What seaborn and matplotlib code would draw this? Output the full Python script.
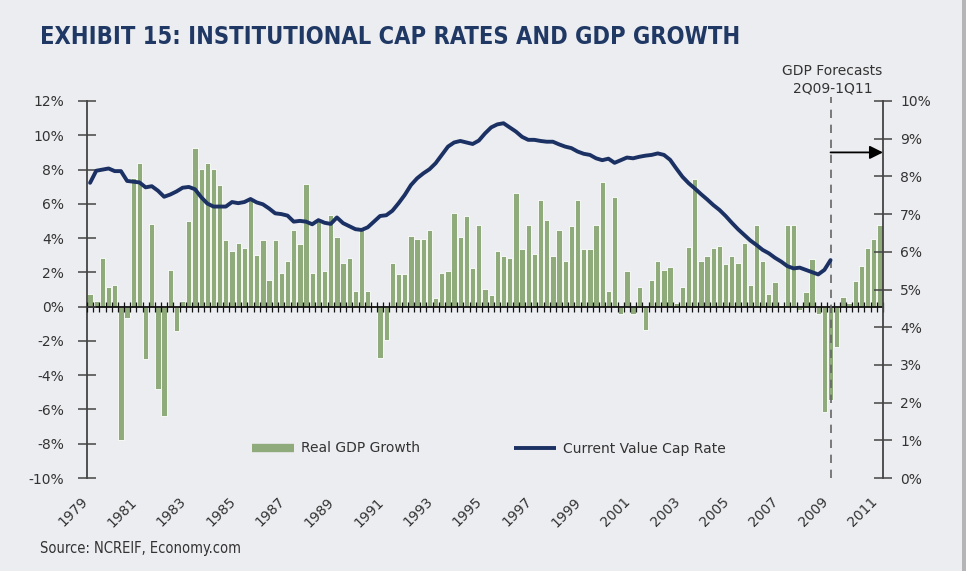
import numpy as np
import pandas as pd
import matplotlib
matplotlib.use('Agg')
import matplotlib.pyplot as plt
import seaborn as sns
from matplotlib import font_manager
from matplotlib.patches import Rectangle
from matplotlib.lines import Line2D

# Real GDP growth, quarterly 1Q79 - 1Q11 (left axis, %); 2Q09 onwards are forecasts
gdp_growth = [
    0.74, 0.33, 2.85, 1.17,    # 1979
    1.25, -7.8, -0.68, 7.52,   # 1980
    8.38, -3.04, 4.83, -4.83,  # 1981
    -6.37, 2.14, -1.44, 0.33,  # 1982
    4.97, 9.28, 8.05, 8.38,    # 1983
    8.05, 7.1, 3.9, 3.24,      # 1984
    3.74, 3.43, 6.33, 3.04,    # 1985
    3.9, 1.56, 3.9, 1.95,      # 1986
    2.65, 4.46, 3.68, 7.15,    # 1987
    1.97, 5.17, 2.09, 5.36,    # 1988
    4.09, 2.55, 2.85, 0.92,    # 1989
    4.64, 0.92, 0.05, -2.98,   # 1990
    -1.95, 2.55, 1.93, 1.93,   # 1991
    4.15, 3.92, 3.96, 4.46,    # 1992
    0.49, 1.97, 2.09, 5.48,    # 1993
    4.09, 5.3, 2.26, 4.78,     # 1994
    1.05, 0.68, 3.26, 2.98,    # 1995
    2.85, 6.63, 3.35, 4.78,    # 1996
    3.06, 6.2, 5.03, 2.98,     # 1997
    4.46, 2.67, 4.68, 6.2,     # 1998
    3.37, 3.37, 4.78, 7.29,    # 1999
    0.92, 6.37, -0.45, 2.09,   # 2000
    -0.45, 1.17, -1.36, 1.56,  # 2001
    2.65, 2.14, 2.34, 0.19,    # 2002
    1.17, 3.5, 7.45, 2.65,     # 2003
    2.98, 3.43, 3.55, 2.5,     # 2004
    2.98, 2.55, 3.74, 1.25,    # 2005
    4.79, 2.68, 0.76, 1.46,    # 2006
    0.1, 4.79, 4.79, -0.2,     # 2007
    0.88, 2.8, -0.43, -6.17,   # 2008
    -5.47, -2.35, 0.56, 0.21,  # 2009
    1.48, 2.35, 3.4, 3.97,     # 2010
    4.79,                      # 2011
]

# Current value cap rate, quarterly 1Q79 - 1Q09 (right axis, %)
cap_rate = [
    7.83, 8.15, 8.18, 8.21, 8.14, 8.14, 7.88, 7.86, 7.84, 7.71, 7.74, 7.62,
    7.46, 7.52, 7.60, 7.70, 7.72, 7.66, 7.45, 7.28, 7.20, 7.20, 7.20, 7.32,
    7.29, 7.32, 7.40, 7.31, 7.26, 7.15, 7.02, 7.00, 6.96, 6.80, 6.82, 6.80,
    6.73, 6.84, 6.77, 6.74, 6.91, 6.76, 6.68, 6.60, 6.58, 6.65, 6.80, 6.95,
    6.97, 7.09, 7.29, 7.51, 7.77, 7.95, 8.08, 8.19, 8.35, 8.57, 8.79, 8.90,
    8.94, 8.90, 8.86, 8.95, 9.14, 9.30, 9.38, 9.41, 9.30, 9.19, 9.05, 8.97,
    8.97, 8.94, 8.92, 8.92, 8.85, 8.79, 8.75, 8.66, 8.60, 8.57, 8.48, 8.43,
    8.47, 8.36, 8.43, 8.50, 8.48, 8.52, 8.55, 8.57, 8.61, 8.57, 8.44, 8.21,
    7.99, 7.82, 7.68, 7.53, 7.39, 7.24, 7.11, 6.95, 6.77, 6.60, 6.45, 6.30,
    6.18, 6.05, 5.96, 5.84, 5.74, 5.62, 5.56, 5.58, 5.52, 5.46, 5.40, 5.52,
    5.78,
]

first_year = 1979
year_labels = [str(y) for y in range(1979, 2012, 2)]
left_ticks = list(range(-10, 13, 2))
right_ticks = list(range(0, 11))
forecast_start = '2Q09'
title = 'EXHIBIT 15: INSTITUTIONAL CAP RATES AND GDP GROWTH'
source = 'Source: NCREIF, Economy.com'

# colours
BG = '#ECEDF1'
GREEN = '#8FAA7B'
NAVY = '#1B3163'
TEXT = '#333333'
AXIS = '#444444'

quarters = [f'{i % 4 + 1}Q{(first_year + i // 4) % 100:02d}' for i in range(len(gdp_growth))]
df = pd.DataFrame({'quarter': quarters, 'gdp': gdp_growth})
cap_df = pd.DataFrame({'pos': np.arange(len(cap_rate)), 'cap': cap_rate})


def pick_narrow(bold):
    # look for an installed narrow / condensed upright face, else fall back to Roboto
    for f in font_manager.fontManager.ttflist:
        narrow = ('Narrow' in f.name or 'Condensed' in f.name
                  or f.stretch in ('condensed', 'semi-condensed', 'extra-condensed', 575, 625, 750))
        isbold = f.weight in ('bold', 700, 'semibold', 600) if bold else f.weight in ('normal', 400, 'regular')
        upright = f.style == 'normal' and 'Italic' not in f.fname and 'Oblique' not in f.fname
        if narrow and isbold and upright:
            return font_manager.FontProperties(fname=f.fname)
    return font_manager.FontProperties(family='Roboto', weight='bold' if bold else 'normal')


sns.set_style('white')
plt.rcParams['font.family'] = ['DejaVu Sans']

fig = plt.figure(figsize=(9.66, 5.71), dpi=100)
fig.patch.set_facecolor(BG)
fig.patches.append(Rectangle((962 / 966, 0), 4 / 966, 1, transform=fig.transFigure,
                             facecolor='#B5B5B8', edgecolor='none', zorder=-10))

ax = fig.add_axes([87 / 966, 1 - 478 / 571, 796 / 966, 377 / 571])
ax.set_facecolor('none')
ax.set_axisbelow(False)

sns.barplot(data=df, x='quarter', y='gdp', color=GREEN, saturation=1, width=0.86,
            edgecolor='white', linewidth=0.6, ax=ax)
ax.set_xlim(-0.5, len(quarters) - 0.5)
ax.set_ylim(left_ticks[0], left_ticks[-1])
ax.set_xlabel('')
ax.set_ylabel('')

# left axis
ax.set_yticks(left_ticks, [f'{t}%' for t in left_ticks])
ax.tick_params(axis='y', direction='inout', length=13, width=1.1, colors=AXIS,
               labelcolor=TEXT, labelsize=10, pad=10, left=True)
for s in ['top', 'right']:
    ax.spines[s].set_visible(False)
ax.spines['left'].set_color(AXIS)
ax.spines['left'].set_linewidth(1.3)

# zero line with a tick at every quarter
ax.spines['bottom'].set_position(('data', 0))
ax.spines['bottom'].set_color('#111111')
ax.spines['bottom'].set_linewidth(1.3)
ax.set_xticks(np.arange(len(quarters) + 1) - 0.5, [''] * (len(quarters) + 1))
ax.tick_params(axis='x', direction='inout', length=7, width=0.9, colors='#111111', bottom=True)

# year labels along the bottom
sec = ax.secondary_xaxis('bottom')
year_pos = [(int(y) - first_year) * 4 for y in year_labels]
sec.set_xticks(year_pos, year_labels)
sec.tick_params(length=0, pad=12, labelsize=10, labelcolor=TEXT)
for lab in sec.get_xticklabels():
    lab.set_rotation(45)
    lab.set_ha('right')
sec.spines['bottom'].set_visible(False)

# right axis with the cap rate
ax2 = ax.twinx()
sns.lineplot(data=cap_df, x='pos', y='cap', color=NAVY, lw=2.8, ax=ax2)
ax2.set_ylim(right_ticks[0], right_ticks[-1])
ax2.set_yticks(right_ticks, [f'{t}%' for t in right_ticks])
ax2.set_ylabel('')
ax2.tick_params(axis='y', direction='inout', length=13, width=1.1, colors=AXIS,
                labelcolor=TEXT, labelsize=10, pad=6, right=True)
for s in ['top', 'left', 'bottom']:
    ax2.spines[s].set_visible(False)
ax2.spines['right'].set_color(AXIS)
ax2.spines['right'].set_linewidth(1.3)

# forecast marker
fx = quarters.index(forecast_start) - 1
ax.plot([fx, fx], [left_ticks[0], 12.25], color='#666666', lw=1.2,
        ls=(0, (5, 4)), clip_on=False, zorder=3)
ax.text(fx + 0.3, 12.35, 'GDP Forecasts\n2Q09-1Q11', ha='center', va='bottom',
        fontsize=10, color=TEXT, linespacing=1.3)
ax.annotate('', xy=(len(quarters) - 0.5, 9.0), xytext=(fx, 9.0),
            arrowprops=dict(arrowstyle='-|>', color='black', lw=1.3, mutation_scale=20,
                            shrinkA=0, shrinkB=0))

handles = [Line2D([], [], color=GREEN, lw=6, solid_capstyle='butt'),
           Line2D([], [], color=NAVY, lw=2.8, solid_capstyle='butt')]
ax2.legend(handles, ['Real GDP Growth', 'Current Value Cap Rate'], ncol=2,
           loc='center left', bbox_to_anchor=((252 - 87) / 796, (478 - 448.5) / 377),
           frameon=False, fontsize=10, borderpad=0, borderaxespad=0,
           handlelength=3.0, columnspacing=6.8, handletextpad=0.5, labelcolor=TEXT)

# title and source, sized to the widths they take in the exhibit
renderer = fig.canvas.get_renderer()
for txt, bold, x0, y0, target, size in [(title, True, 40, 37, 697, 21),
                                        (source, False, 40, 548, 200, 11)]:
    fp = pick_narrow(bold)
    fp.set_size(size)
    t = fig.text(x0 / 966, 1 - y0 / 571, txt, fontproperties=fp,
                 color='#1F3864' if bold else TEXT, va='center', ha='left')
    w = t.get_window_extent(renderer).width
    t.set_fontsize(size * target / w)

fig.savefig('out.png', dpi=100, facecolor=fig.get_facecolor())
